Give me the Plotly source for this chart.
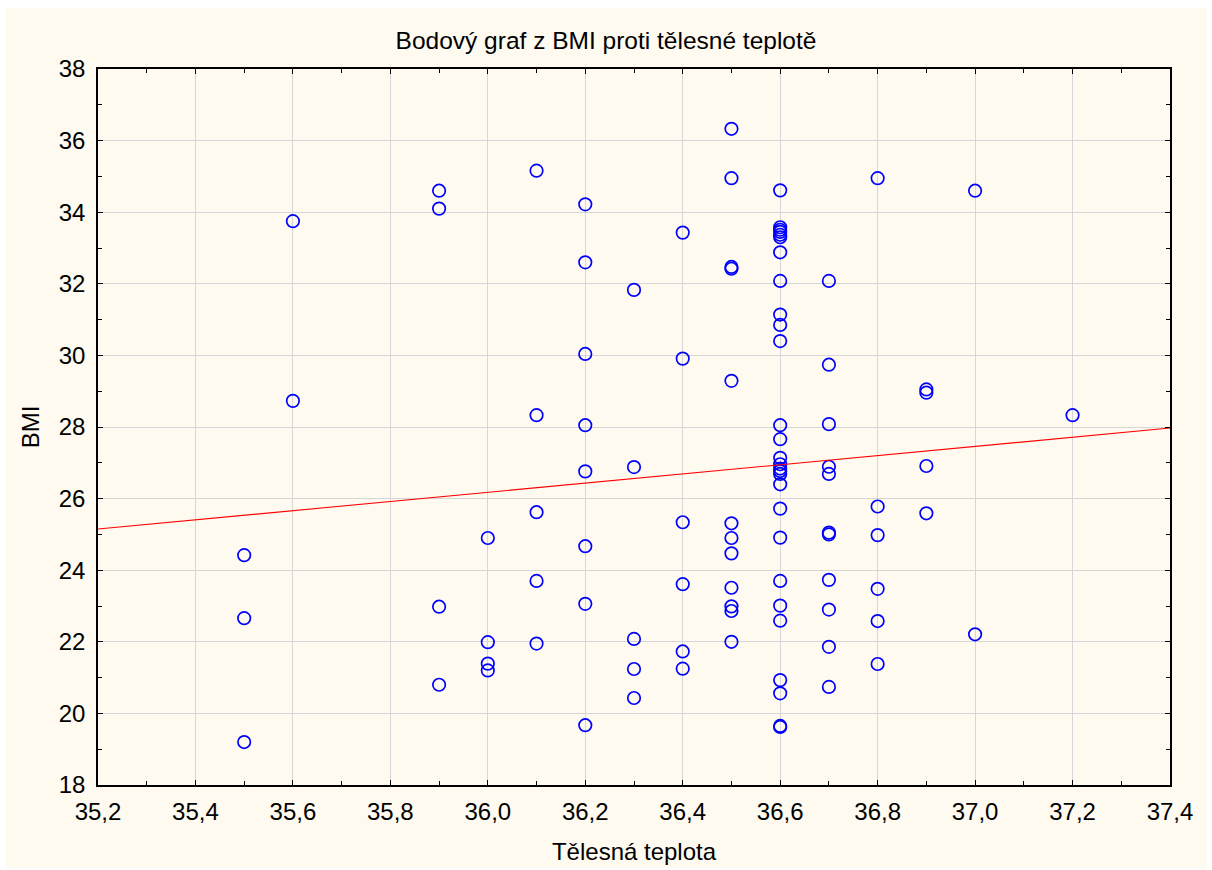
import plotly.graph_objects as go

# --- data ---
temp_groups = [35.5, 35.6, 35.9, 36.0, 36.1, 36.2, 36.3, 36.4, 36.5, 36.6, 36.7, 36.8, 36.9, 37.0, 37.2]
bmi_groups = [
    [24.42, 22.66, 19.20],
    [33.75, 28.73],
    [34.60, 34.10, 22.98, 20.80],
    [24.90, 21.99, 21.39, 21.20],
    [35.16, 28.33, 25.62, 23.70, 21.95],
    [34.22, 32.60, 30.04, 28.05, 26.76, 24.67, 23.06, 19.67],
    [31.83, 26.88, 22.08, 21.24, 20.43],
    [33.43, 29.91, 25.34, 23.61, 21.73, 21.25],
    [36.33, 34.95, 32.47, 32.42, 29.29, 25.31, 24.90, 24.47, 23.51, 22.99, 22.86, 22.00],
    [34.61, 33.58, 33.51, 33.45, 33.37, 33.30, 32.88, 32.08, 31.14, 30.85, 30.40,
     28.05, 27.66, 27.14, 26.96, 26.84, 26.77, 26.69, 26.40, 25.72, 24.91, 23.70,
     23.01, 22.59, 20.93, 20.56, 19.65, 19.62],
    [32.08, 29.74, 28.08, 26.89, 26.69, 25.05, 25.00, 23.73, 22.90, 21.86, 20.74],
    [34.95, 25.78, 24.98, 23.48, 22.58, 21.38],
    [29.05, 28.96, 26.91, 25.59],
    [34.60, 22.21],
    [28.33],
]

fit_x = [35.2, 37.4]
fit_y = [25.15, 27.97]

x_range = [35.2, 37.4]
y_range = [18, 38]

title_text = "Bodový graf z BMI proti tělesné teplotě"
x_title = "Tělesná teplota"
y_title = "BMI"

temps = []
bmis = []
for t, vals in zip(temp_groups, bmi_groups):
    for v in vals:
        temps.append(t)
        bmis.append(v)

FONT = "Liberation Sans, Arial, sans-serif"

fig = go.Figure()
fig.add_trace(go.Scatter(
    x=temps, y=bmis, mode="markers",
    marker=dict(symbol="circle-open", size=12.5, color="#0000FF", line=dict(width=1.7, color="#0000FF")),
    showlegend=False, hoverinfo="x+y",
))
fig.add_trace(go.Scatter(
    x=fit_x, y=fit_y, mode="lines",
    line=dict(color="#FF0000", width=1.1),
    showlegend=False,
))

axis_common = dict(
    showline=True, linecolor="black", linewidth=1.6, mirror="ticks",
    ticks="inside", ticklen=5, tickwidth=1.2, tickcolor="black",
    showgrid=True, gridcolor="#D6D6D6", gridwidth=1,
    zeroline=False, automargin=False,
    tickfont=dict(family=FONT, size=24, color="black"),
)

fig.update_xaxes(
    range=x_range, dtick=0.2, tick0=35.2, tickformat=".1f",
    ticklabelstandoff=4,
    minor=dict(ticks="inside", ticklen=4, dtick=0.1, tick0=35.2, tickcolor="black", showgrid=False),
    title=dict(text=x_title, font=dict(family=FONT, size=24, color="black"), standoff=20),
    **axis_common,
)
fig.update_yaxes(
    range=y_range, dtick=2, tick0=18,
    ticklabelstandoff=6,
    minor=dict(ticks="inside", ticklen=4, dtick=1, tick0=18, tickcolor="black", showgrid=False),
    title=dict(text=y_title, font=dict(family=FONT, size=24, color="black"), standoff=12),
    **axis_common,
)

fig.update_layout(
    width=1212, height=870,
    paper_bgcolor="white", plot_bgcolor="white",
    separators=", ",
    margin=dict(l=98, r=42, t=69, b=85),
    title=dict(text=title_text, x=0.5, xanchor="center", y=1 - 40 / 870, yanchor="middle",
               font=dict(family=FONT, size=24.5, color="black")),
    shapes=[dict(type="rect", xref="paper", yref="paper", layer="below",
                 x0=-92 / 1072, x1=1 + 37 / 1072, y0=-83 / 716, y1=1 + 61 / 716,
                 fillcolor="#FEFAF0", line=dict(width=0))],
)

fig.write_html("out.html")
